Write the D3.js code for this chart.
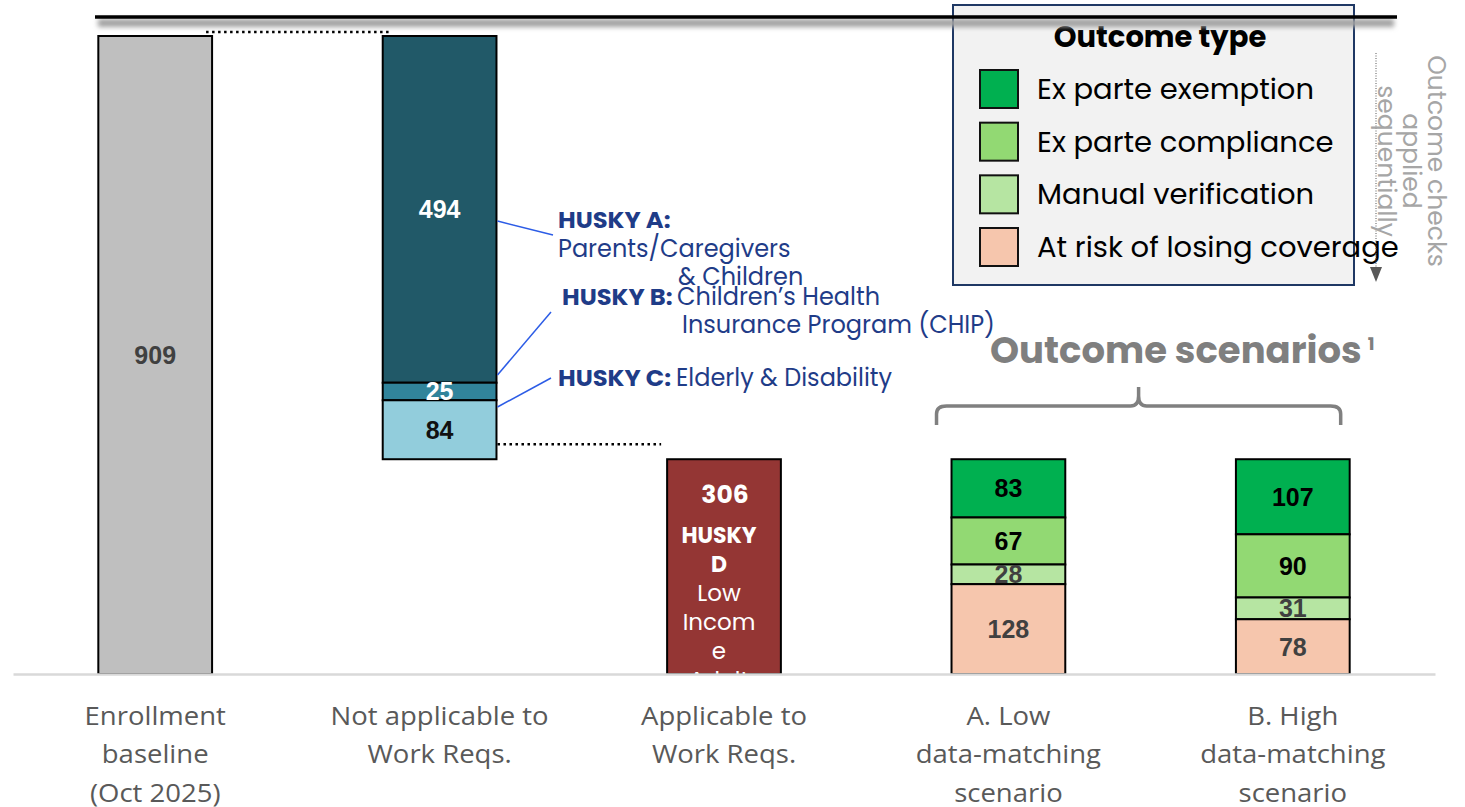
<!DOCTYPE html>
<meta charset="utf-8">

<!-- Load d3.js -->
<script src="https://d3js.org/d3.v7.min.js"></script>
<style>
  body { margin: 0; background: #fff; }
</style>
<body>
<div id="visual"></div>

<script>
// chart values
var categories = ["baseline", "notApplicable", "applicable", "scenarioA", "scenarioB"];
var categoryLabels = [
  ["Enrollment", "baseline", "(Oct 2025)"],
  ["Not applicable to", "Work Reqs."],
  ["Applicable to", "Work Reqs."],
  ["A. Low", "data-matching", "scenario"],
  ["B. High", "data-matching", "scenario"]
];
var baselineValue = [909];
var huskyGroups = ["HUSKY A", "HUSKY B", "HUSKY C"];
var notApplicableValues = [494, 25, 84];
var applicableValues = [306];
var outcomeTypes = ["Ex parte exemption", "Ex parte compliance", "Manual verification", "At risk of losing coverage"];
var scenarioAValues = [83, 67, 28, 128];
var scenarioBValues = [107, 90, 31, 78];
var applicableText = ["HUSKY", "D", "Low", "Incom", "e", "Adult"];

// colours
var huskyColors = ["#215968", "#31849b", "#92cddc"];
var huskyLabelColors = ["#fff", "#fff", "#111"];
var outcomeColors = ["#00b050", "#92d973", "#b6e5a2", "#f6c6ad"];
var outcomeLabelColors = ["#000", "#000", "#404040", "#404040"];

var width = 1465, height = 807;
var poppins = "Poppins, 'Open Sans', sans-serif";

var svg = d3.select("#visual")
  .append("svg")
    .attr("width", width)
    .attr("height", height);

var defs = svg.append("defs");
defs.append("filter").attr("id", "blur")
  .attr("filterUnits", "userSpaceOnUse")
  .attr("x", 0).attr("y", 0).attr("width", width).attr("height", 60)
  .append("feGaussianBlur").attr("stdDeviation", 2.5);

var x = d3.scaleBand()
  .domain(categories)
  .range([13, 1435])
  .paddingInner(0.6)
  .paddingOuter(0.3);

var y = d3.scaleLinear()
  .domain([0, 909])
  .range([674, 36]);

// build the stacked segments
var segments = [];
segments.push({cat: "baseline", hi: baselineValue[0], lo: 0, v: baselineValue[0], fill: "#bfbfbf", color: "#404040"});
var running = baselineValue[0];
notApplicableValues.forEach(function(v, i) {
  segments.push({cat: "notApplicable", hi: running, lo: running - v, v: v, fill: huskyColors[i], color: huskyLabelColors[i]});
  running -= v;
});
segments.push({cat: "applicable", hi: applicableValues[0], lo: 0, v: applicableValues[0], fill: "#943634", color: "#fff", atTop: true});
[["scenarioA", scenarioAValues], ["scenarioB", scenarioBValues]].forEach(function(s) {
  var t = applicableValues[0];
  s[1].forEach(function(v, i) {
    segments.push({cat: s[0], hi: t, lo: t - v, v: v, fill: outcomeColors[i], color: outcomeLabelColors[i]});
    t -= v;
  });
});

// legend box (under the top rule)
var legend = svg.append("g");
legend.append("rect")
  .attr("x", 953).attr("y", 5).attr("width", 401).attr("height", 280)
  .attr("fill", "#f2f2f2").attr("stroke", "#1f3864").attr("stroke-width", 2);

// top rule with shadow
svg.append("rect")
  .attr("x", 98).attr("y", 19).attr("width", 1296).attr("height", 8)
  .attr("fill", "#a0a0a0")
  .attr("filter", "url(#blur)");
svg.append("line")
  .attr("x1", 95).attr("x2", 1397).attr("y1", 17).attr("y2", 17)
  .attr("stroke", "#000").attr("stroke-width", 3.5);

// legend content
legend.append("text")
  .attr("x", 1160).attr("y", 47)
  .attr("text-anchor", "middle")
  .style("font-family", poppins).style("font-weight", "bold").style("font-size", "29px")
  .attr("fill", "#000")
  .text("Outcome type");

var ly = d3.scalePoint().domain(outcomeTypes).range([70, 228]);
var items = legend.selectAll(".item").data(outcomeTypes).enter().append("g");
items.append("rect")
  .attr("x", 980).attr("y", function(d) { return ly(d); })
  .attr("width", 38).attr("height", 38)
  .attr("fill", function(d, i) { return outcomeColors[i]; })
  .attr("stroke", "#111").attr("stroke-width", 2);
items.append("text")
  .attr("x", 1037).attr("y", function(d) { return ly(d) + 19; })
  .attr("dy", "0.35em")
  .style("font-family", poppins).style("font-size", "29px")
  .attr("fill", "#000")
  .text(function(d) { return d; });

// "outcome checks applied sequentially"
svg.append("line")
  .attr("x1", 1376).attr("x2", 1376).attr("y1", 53).attr("y2", 268)
  .attr("stroke", "#595959").attr("stroke-width", 1).attr("stroke-dasharray", "1,1.5");
svg.append("path")
  .attr("d", "M1370,267 L1382,267 L1376,282 Z")
  .attr("fill", "#595959");
var side = svg.append("text")
  .attr("transform", "translate(1428,161) rotate(90)")
  .attr("text-anchor", "middle")
  .style("font-family", poppins).style("font-size", "25px")
  .attr("fill", "#a6a6a6");
["Outcome checks", "applied", "sequentially"].forEach(function(t, i) {
  side.append("tspan").attr("x", 0).attr("y", i * 25).text(t);
});

// bars
svg.append("g").selectAll("rect")
  .data(segments)
  .enter().append("rect")
    .attr("x", function(d) { return x(d.cat); })
    .attr("y", function(d) { return y(d.hi); })
    .attr("width", x.bandwidth())
    .attr("height", function(d) { return y(d.lo) - y(d.hi); })
    .attr("fill", function(d) { return d.fill; })
    .attr("stroke", "#000")
    .attr("stroke-width", 2);

// value labels
svg.append("g").selectAll("text")
  .data(segments.filter(function(d) { return !d.atTop; }))
  .enter().append("text")
    .attr("x", function(d) { return x(d.cat) + x.bandwidth() / 2; })
    .attr("y", function(d) { return (y(d.hi) + y(d.lo)) / 2; })
    .attr("dy", "0.36em")
    .attr("text-anchor", "middle")
    .style("font-family", "'Liberation Sans', Arial, sans-serif")
    .style("font-weight", "bold")
    .style("font-size", "25px")
    .attr("fill", function(d) { return d.color; })
    .text(function(d) { return d.v; });

// applicable bar: value and wrapped text, clipped to the bar
var app = segments.filter(function(d) { return d.atTop; })[0];
defs.append("clipPath").attr("id", "appClip")
  .append("rect")
    .attr("x", x(app.cat)).attr("y", y(app.hi))
    .attr("width", x.bandwidth()).attr("height", y(app.lo) - y(app.hi));
var appG = svg.append("g").attr("clip-path", "url(#appClip)");
var appCx = x(app.cat) + x.bandwidth() / 2;
appG.append("text")
  .attr("x", appCx + 1).attr("y", y(app.hi) + 44)
  .attr("text-anchor", "middle")
  .style("font-family", poppins).style("font-weight", "bold").style("font-size", "25px")
  .attr("fill", "#fff")
  .text(app.v);
appG.selectAll(".appline").data(applicableText).enter().append("text")
  .attr("x", appCx - 5)
  .attr("y", function(d, i) { return y(app.hi) + 84 + i * 29; })
  .attr("text-anchor", "middle")
  .style("font-family", poppins)
  .style("font-weight", function(d, i) { return i < 2 ? "bold" : "normal"; })
  .style("font-size", function(d, i) { return i < 2 ? "22px" : "23px"; })
  .attr("fill", "#fff")
  .text(function(d) { return d; });

// dotted connectors between bars
svg.append("line")
  .attr("x1", x("baseline") + x.bandwidth() - 6).attr("x2", x("notApplicable") + 7)
  .attr("y1", y(baselineValue[0]) - 4).attr("y2", y(baselineValue[0]) - 4)
  .attr("stroke", "#000").attr("stroke-width", 2.5).attr("stroke-dasharray", "2.5,3.5");
svg.append("line")
  .attr("x1", x("notApplicable") + x.bandwidth() + 1).attr("x2", x("applicable") - 6)
  .attr("y1", y(applicableValues[0]) - 15).attr("y2", y(applicableValues[0]) - 15)
  .attr("stroke", "#000").attr("stroke-width", 2.5).attr("stroke-dasharray", "2.5,3.5");

// HUSKY annotations
var navy = "#1f3c88";
var barRight = x("notApplicable") + x.bandwidth() + 1;
var leaders = [[221, 553, 235], [375, 551, 312], [407, 551, 378]];
svg.append("g").selectAll("line").data(leaders).enter().append("line")
  .attr("x1", barRight).attr("y1", function(d) { return d[0]; })
  .attr("x2", function(d) { return d[1]; }).attr("y2", function(d) { return d[2]; })
  .attr("stroke", "#2c5ce6").attr("stroke-width", 1.5);

var annotations = [
  {x: 558, y: 228, text: huskyGroups[0] + ":", bold: true},
  {x: 558, y: 257, text: "Parents/Caregivers"},
  {x: 678, y: 285, text: "& Children"},
  {x: 562, y: 305, text: huskyGroups[1] + ":", bold: true},
  {x: 677, y: 305, text: "Children\u2019s Health"},
  {x: 682, y: 333, text: "Insurance Program (CHIP)"},
  {x: 558, y: 386, text: huskyGroups[2] + ":", bold: true},
  {x: 676, y: 386, text: "Elderly & Disability"}
];
svg.append("g").selectAll("text").data(annotations).enter().append("text")
  .attr("transform", function(d) {
    return "translate(" + d.x + "," + d.y + ")" + (d.bold ? " scale(1.1,1)" : "");
  })
  .style("font-family", poppins)
  .style("font-weight", function(d) { return d.bold ? "bold" : "normal"; })
  .style("font-size", function(d) { return d.bold ? "22px" : "24px"; })
  .attr("fill", navy)
  .text(function(d) { return d.text; });

// outcome scenarios title and brace
var sc = svg.append("text")
  .attr("x", 990).attr("y", 363)
  .style("font-family", poppins).style("font-weight", "bold").style("font-size", "37px")
  .attr("fill", "#7f7f7f");
sc.append("tspan").text("Outcome scenarios");
sc.append("tspan").attr("dx", 6).attr("dy", -13).style("font-size", "18px").text("1");

var bl = x("scenarioA") - 15, br = x("scenarioB") + x.bandwidth() - 9, bm = (bl + br) / 2;
svg.append("path")
  .attr("d", "M" + bl + ",425 L" + bl + ",414 Q" + bl + ",406 " + (bl + 10) + ",406 L" + (bm - 8) + ",406 Q" + bm + ",406 " + bm + ",396 L" + bm + ",387 M" + bm + ",396 Q" + bm + ",406 " + (bm + 8) + ",406 L" + (br - 10) + ",406 Q" + br + ",406 " + br + ",414 L" + br + ",425")
  .attr("fill", "none").attr("stroke", "#808080").attr("stroke-width", 3.5);

// x axis
var xAxis = svg.append("g")
  .attr("transform", "translate(0,674)")
  .call(d3.axisBottom(x).tickSize(0).tickFormat(""));
xAxis.select(".domain").attr("stroke", "#d9d9d9").attr("stroke-width", 2.5);

svg.append("g").selectAll("text")
  .data(categories)
  .enter().append("text")
    .attr("transform", function(d) { return "translate(" + (x(d) + x.bandwidth() / 2) + ",0) scale(1.1,1)"; })
    .attr("text-anchor", "middle")
    .style("font-family", "'Open Sans', sans-serif")
    .style("font-size", "25px")
    .attr("fill", "#595959")
    .each(function(d, i) {
      var t = d3.select(this);
      categoryLabels[i].forEach(function(line, j) {
        t.append("tspan")
          .attr("x", 0)
          .attr("y", 725 + j * 38.5)
          .text(line);
      });
    });
</script>
</body>
</html>
